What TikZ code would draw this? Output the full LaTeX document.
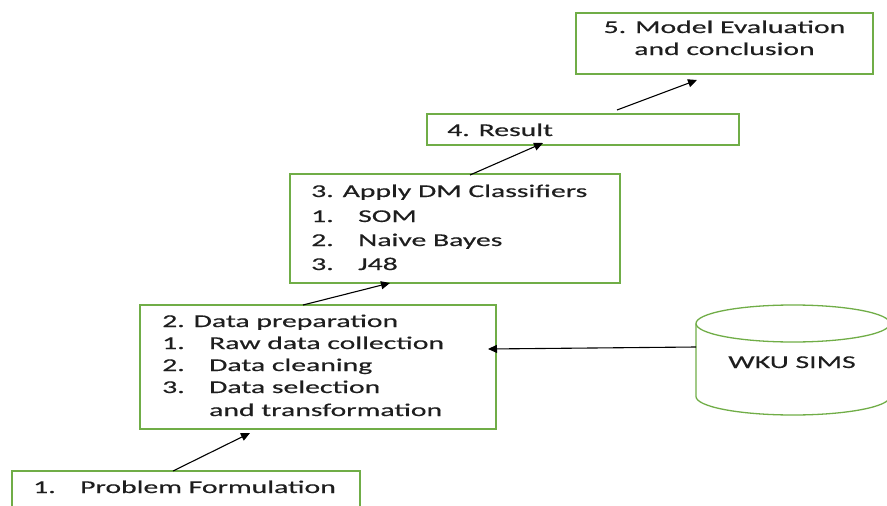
\documentclass[tikz,border=0pt]{standalone}
\usepackage{fontspec}
\setmainfont{Carlito}[FakeStretch=1.65, FakeBold=0.4]
\usetikzlibrary{arrows.meta,calc}
\definecolor{boxgreen}{HTML}{70AD47}
\definecolor{ink}{HTML}{1E1E1E}
\begin{document}
\begin{tikzpicture}[x=1pt,y=-1pt,
  stage/.style={draw=boxgreen, line width=1.3pt, anchor=north west, inner sep=0pt, outer sep=0pt},
  txt/.style={anchor=base west, inner sep=0pt, text=ink, font=\fontsize{18}{22}\selectfont},
  txtc/.style={txt, anchor=base},
  flow/.style={-{Triangle[length=9pt,width=8pt]}, line width=1.1pt, black},
  cyl/.style={draw=boxgreen, line width=1.3pt}]
\clip (0,0) rectangle (887,506);

% process stages
\node[stage, minimum width=348pt, minimum height=60pt] (b1) at (12,471) {};
\node[stage, minimum width=356pt, minimum height=124pt] (b2) at (140,305) {};
\node[stage, minimum width=330pt, minimum height=109pt] (b3) at (290,174) {};
\node[stage, minimum width=312pt, minimum height=31pt] (b4) at (427,114) {};
\node[stage, minimum width=297pt, minimum height=61pt] (b5) at (576,13) {};

% stage texts
\node[txt] (t1) at (33,493) {\makebox[47pt][l]{1.}Problem Formulation};

\node[txt] (t20) at (162,327) {2. Data preparation};
\node[txt] (t21) at (162,349) {\makebox[47pt][l]{1.}Raw data collection};
\node[txt] (t22) at (162,371) {\makebox[47pt][l]{2.}Data cleaning};
\node[txt] (t23) at (162,393) {\makebox[47pt][l]{3.}Data selection};
\node[txt] (t24) at (209,416) {and transformation};

\node[txt] (t30) at (311,197) {3. Apply DM Classifiers};
\node[txt] (t31) at (311,222) {\makebox[47pt][l]{1.}SOM};
\node[txt] (t32) at (311,246) {\makebox[47pt][l]{2.}Naive Bayes};
\node[txt] (t33) at (311,270) {\makebox[47pt][l]{3.}J48};

\node[txt] (t4) at (447,136) {4. Result};

\node[txtc] (t5a) at (724.5,33) {5. Model Evaluation};
\node[txtc] (t5b) at (724.5,55) {and conclusion};

% data source cylinder
\draw[cyl] (696,323.5) -- (696,396.5)
  arc[start angle=180, end angle=0, x radius=97, y radius=18.5] -- (890,323.5);
\draw[cyl] (793,323.5) ellipse [x radius=97, y radius=18.5];
\node[txtc] (db) at (792,368) {WKU SIMS};
\coordinate (dbin) at (696,347);

% connectors
\coordinate (s1) at ($(b1.north west)+(161,0)$);
\coordinate (e1) at ($(b2.south west)+(110,4)$);
\coordinate (s2) at ($(b2.north west)+(163,0)$);
\coordinate (e2) at ($(b3.south west)+(100,0)$);
\coordinate (s3) at ($(b3.north west)+(180,1)$);
\coordinate (e3) at ($(b4.south west)+(116,-2)$);
\coordinate (s4) at ($(b4.north west)+(190,-4)$);
\coordinate (e4) at ($(b5.south west)+(121,6)$);
\coordinate (e5) at ($(b2.south east)+(-8,-80)$);

\draw[flow] (s1) -- (e1);
\draw[flow] (s2) -- (e2);
\draw[flow] (s3) -- (e3);
\draw[flow] (s4) -- (e4);
\draw[flow] (dbin) -- (e5);
\end{tikzpicture}
\end{document}
